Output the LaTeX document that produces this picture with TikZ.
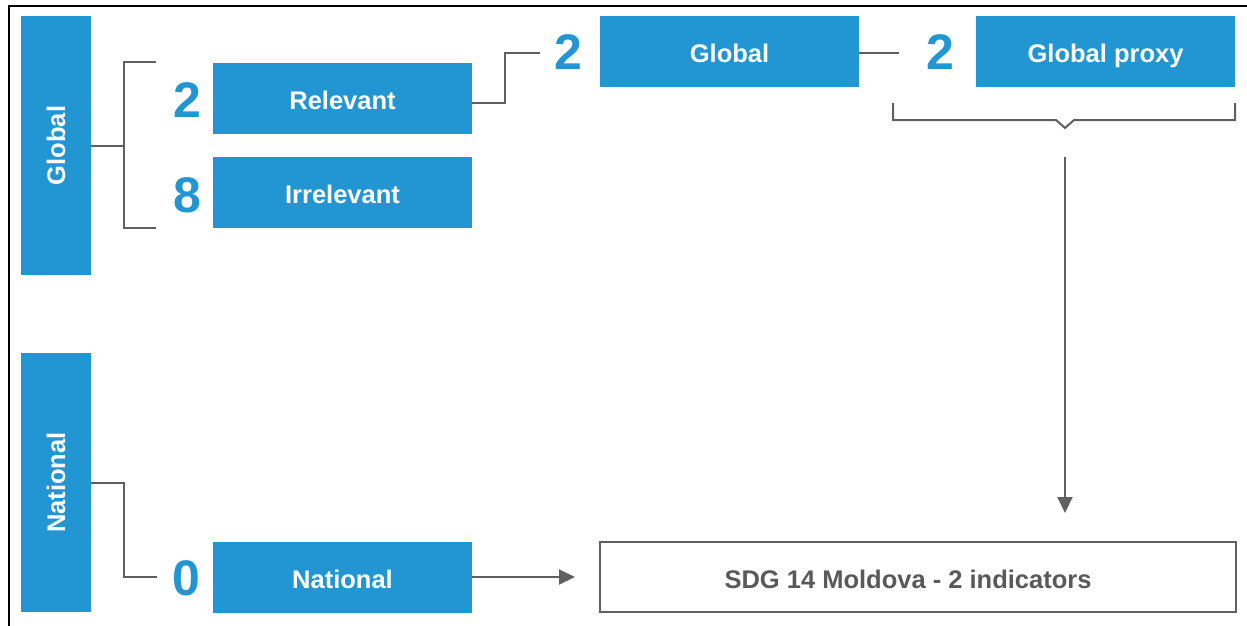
\documentclass[tikz,border=0pt]{standalone}
\usepackage{fontspec}
\setmainfont{Liberation Sans}
\usetikzlibrary{arrows.meta}
\definecolor{sdgblue}{RGB}{33,150,211}
\definecolor{lngray}{RGB}{96,96,96}
\definecolor{txtgray}{RGB}{89,89,89}
\tikzset{
  bluebox/.style={fill=sdgblue, draw=none, inner sep=0pt, outer sep=0pt, text=white, font=\bfseries\fontsize{25.5}{30}\selectfont, text height=22pt, text depth=0pt, minimum width=259pt, minimum height=71pt},
  sidebox/.style={fill=sdgblue, draw=none, inner sep=0pt, outer sep=0pt, text=white, font=\bfseries\fontsize{25.5}{30}\selectfont, minimum width=70pt, minimum height=259pt},
  numlbl/.style={text=sdgblue, inner sep=0pt, font=\bfseries\fontsize{50}{56}\selectfont},
  conn/.style={draw=lngray, line width=2pt},
  arr/.style={conn, -{Triangle[length=16pt, width=15pt]}},
  outbox/.style={fill=white, draw=lngray, line width=2pt, inner sep=0pt, text=txtgray, font=\bfseries\fontsize{25.5}{30}\selectfont, text height=22pt, text depth=0pt, minimum width=636pt, minimum height=70pt}
}
\begin{document}
\begin{tikzpicture}[x=1pt, y=-1pt]
\useasboundingbox (0,0) rectangle (1247,626);
% frame
\draw[black, line width=2pt] (9,626) -- (9,6) -- (1247,6);
% side boxes
\node[sidebox] (gside) at (56,145.5) {\rotatebox{90}{Global}};
\node[sidebox] (nside) at (56,482.5) {\rotatebox{90}{National}};
% boxes
\node[bluebox] (rel) at (342.5,98.5) {Relevant};
\node[bluebox] (irr) at (342.5,192.5) {Irrelevant};
\node[bluebox] (natb) at (342.5,577) {National};
\node[bluebox] (glob) at (729.5,51.5) {Global};
\node[bluebox] (prox) at (1105.5,51.5) {Global proxy};
\node[outbox] (sdg) at (918,577) {SDG 14 Moldova - 2 indicators\hspace*{20pt}};
% numbers
\node[numlbl] (n1) at (187,100) {2};
\node[numlbl] (n2) at (187,195) {8};
\node[numlbl] (n3) at (568,52) {2};
\node[numlbl] (n4) at (940,52) {2};
\node[numlbl] (n5) at (186,578) {0};
% coordinates
\coordinate (b1) at (156,62);
\coordinate (b2) at (156,228);
\coordinate (c1) at (540,53);
\coordinate (c2) at (899,53);
\coordinate (c3) at (157,577);
\coordinate (bt) at (1065,157);
\coordinate (bb) at (1065,513);
\coordinate (na) at (575,577);
\coordinate (r1) at (472,103);
% left bracket
\draw[conn] (gside.east) -- (124,145.5);
\draw[conn] (b1) -- (124,62) -- (124,228) -- (b2);
% relevant to global
\draw[conn] (rel.east |- r1) -- (505,103) -- (505,53) -- (c1);
% global to proxy
\draw[conn] (glob.east |- c2) -- (c2);
% brace
\draw[conn] (893,103) -- (893,120) -- (1056,120) -- (1065,128) -- (1074,120) -- (1235,120) -- (1235,103);
% down arrow
\draw[arr] (bt) -- (bb);
% national bracket
\draw[conn] (nside.east) -- (124,482.5) -- (124,577) -- (c3);
% national to sdg
\draw[arr] (natb.east) -- (na);
\end{tikzpicture}
\end{document}
